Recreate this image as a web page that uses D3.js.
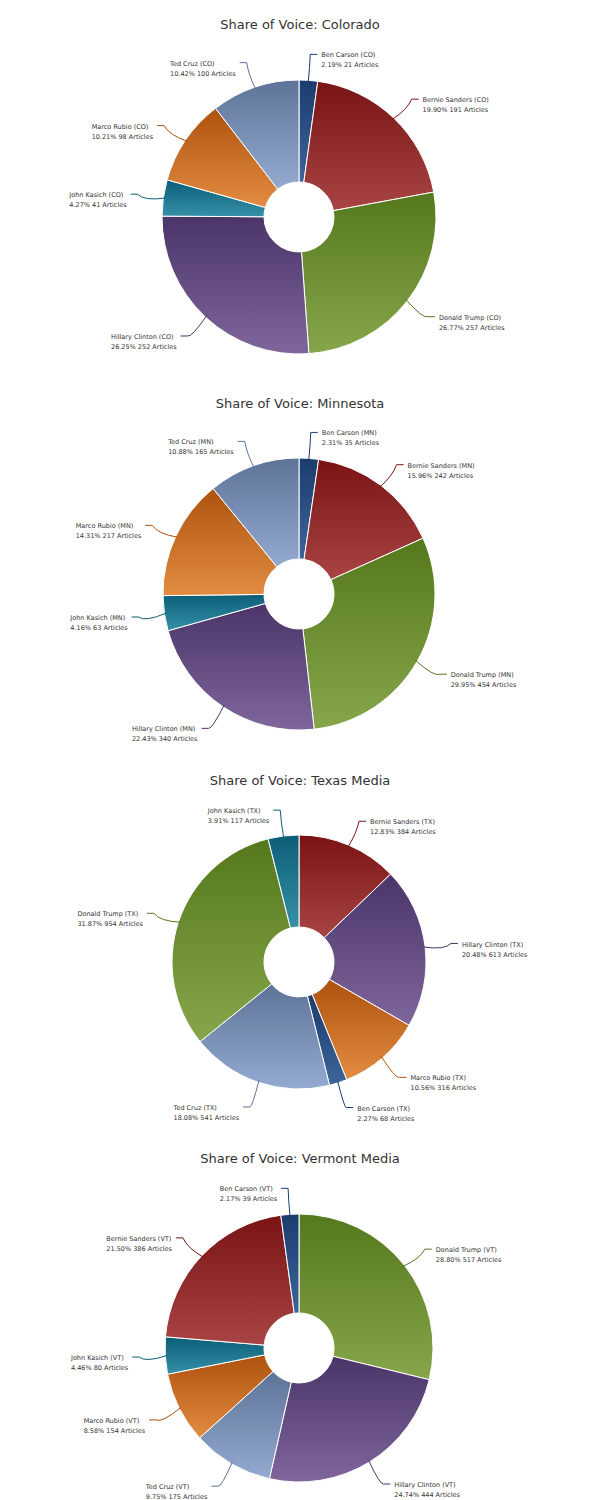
<!DOCTYPE html>
<html><head><meta charset="utf-8">
<script src="https://cdn.jsdelivr.net/npm/d3@7"></script>
<style>body{margin:0;background:#fff;font-family:"DejaVu Sans",sans-serif}</style>
</head><body>
<svg id="chart" width="600" height="1500"></svg>
<script>
// candidates and colours (dark top, light bottom)
var colors = {
  "Ben Carson": ["#1c3c6e", "#3c659a"],
  "Bernie Sanders": ["#7a1414", "#a84444"],
  "Donald Trump": ["#55781c", "#87a64c"],
  "Hillary Clinton": ["#4a3468", "#7f669c"],
  "John Kasich": ["#0c5e77", "#3590a8"],
  "Marco Rubio": ["#ae520e", "#e28c42"],
  "Ted Cruz": ["#5d7398", "#95aad0"]
};

var titles = ["Share of Voice: Colorado", "Share of Voice: Minnesota", "Share of Voice: Texas Media", "Share of Voice: Vermont Media"];
var abbrs = ["CO", "MN", "TX", "VT"];

var coNames = ["Ben Carson", "Bernie Sanders", "Donald Trump", "Hillary Clinton", "John Kasich", "Marco Rubio", "Ted Cruz"];
var coPct = [2.19, 19.90, 26.77, 26.25, 4.27, 10.21, 10.42];
var coArt = [21, 191, 257, 252, 41, 98, 100];

var mnNames = ["Ben Carson", "Bernie Sanders", "Donald Trump", "Hillary Clinton", "John Kasich", "Marco Rubio", "Ted Cruz"];
var mnPct = [2.31, 15.96, 29.95, 22.43, 4.16, 14.31, 10.88];
var mnArt = [35, 242, 454, 340, 63, 217, 165];

var txNames = ["Bernie Sanders", "Hillary Clinton", "Marco Rubio", "Ben Carson", "Ted Cruz", "Donald Trump", "John Kasich"];
var txPct = [12.83, 20.48, 10.56, 2.27, 18.08, 31.87, 3.91];
var txArt = [384, 613, 316, 68, 541, 954, 117];

var vtNames = ["Donald Trump", "Hillary Clinton", "Ted Cruz", "Marco Rubio", "John Kasich", "Bernie Sanders", "Ben Carson"];
var vtPct = [28.80, 24.74, 9.75, 8.58, 4.46, 21.50, 2.17];
var vtArt = [517, 444, 175, 154, 80, 386, 39];

var charts = [
  {names: coNames, pct: coPct, art: coArt, cy: 217, r: 137},
  {names: mnNames, pct: mnPct, art: mnArt, cy: 594, r: 136},
  {names: txNames, pct: txPct, art: txArt, cy: 962, r: 127},
  {names: vtNames, pct: vtPct, art: vtArt, cy: 1348, r: 134}
];
var titleY = [29, 408, 785, 1163];

var svg = d3.select("#chart");
var defs = svg.append("defs");
Object.keys(colors).forEach(function(k, i){
  var g = defs.append("linearGradient").attr("id", "g" + i)
    .attr("x1", 0).attr("y1", 0).attr("x2", 0).attr("y2", 1);
  g.append("stop").attr("offset", "0%").attr("stop-color", colors[k][0]);
  g.append("stop").attr("offset", "100%").attr("stop-color", colors[k][1]);
});
var gradId = function(name){ return "url(#g" + Object.keys(colors).indexOf(name) + ")"; };

charts.forEach(function(c, ci){
  svg.append("text").attr("x", 300).attr("y", titleY[ci])
    .attr("text-anchor", "middle").attr("font-size", 13).attr("fill", "#333")
    .text(titles[ci]);

  var data = c.names.map(function(n, i){ return {name: n, pct: c.pct[i], art: c.art[i]}; });
  var pie = d3.pie().sort(null).value(function(d){ return d.pct; });
  var arc = d3.arc().innerRadius(35).outerRadius(c.r);
  var g = svg.append("g").attr("transform", "translate(299," + c.cy + ")");
  var arcs = pie(data);

  g.selectAll("path.slice").data(arcs).enter().append("path")
    .attr("class", "slice")
    .attr("d", arc)
    .attr("fill", function(d){ return gradId(d.data.name); })
    .attr("stroke", "#fff").attr("stroke-width", 1);

  arcs.forEach(function(d){
    var a = (d.startAngle + d.endAngle) / 2;
    var sx = Math.sin(a), sy = -Math.cos(a);
    var right = sx >= 0;
    var p0 = [sx * (c.r - 2), sy * (c.r - 2)];
    var p1 = [sx * (c.r + 26), sy * (c.r + 26)];
    var tip = [p1[0] + (right ? 7 : -7), p1[1]];
    var col = colors[d.data.name][0];
    g.append("path")
      .attr("d", "M" + p0 + "Q" + [sx * (c.r + 20), sy * (c.r + 20) + 6] + " " + p1 + "L" + tip)
      .attr("fill", "none").attr("stroke", col).attr("stroke-width", 1);
    var t = g.append("text").attr("font-size", 6.5).attr("fill", "#333");
    var l1 = t.append("tspan").attr("y", tip[1] + 3).text(d.data.name + " (" + abbrs[ci] + ")");
    var l2 = t.append("tspan").attr("y", tip[1] + 13).text(d.data.pct.toFixed(2) + "% " + d.data.art + " Articles");
    var w = Math.max(l1.node().getComputedTextLength(), l2.node().getComputedTextLength());
    var x = right ? tip[0] + 4 : tip[0] - 4 - w;
    l1.attr("x", x); l2.attr("x", x);
  });
});
</script>
</body></html>
